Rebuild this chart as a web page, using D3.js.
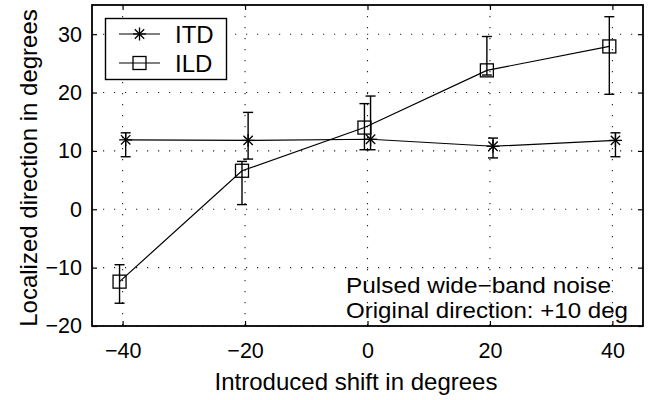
<!DOCTYPE html>
<html><head><meta charset="utf-8">
<script src="https://cdn.jsdelivr.net/npm/d3@7"></script>
<style>
body{margin:0;background:#fff;}
text{font-family:"Liberation Sans",Arial,Helvetica,sans-serif;fill:#000;}
</style></head>
<body><svg id="c" width="653" height="400"></svg>
<script>
const shifts = [-40, -20, 0, 20, 40];
const itdX = [-39.5, -19.5, 0.5, 20.5, 40.5];
const itdMean = [11.9, 11.8, 12.0, 10.8, 11.8];
const itdLow = [9.0, 8.6, 10.2, 8.8, 9.0];
const itdHigh = [13.1, 16.6, 19.4, 12.2, 13.1];
const ildX = [-40.5, -20.5, -0.5, 19.5, 39.5];
const ildMean = [-12.4, 6.6, 14.0, 23.8, 27.9];
const ildLow = [-16.1, 0.8, 10.2, 23.0, 19.7];
const ildHigh = [-9.5, 8.2, 18.1, 29.6, 33.0];
const xTicks = [-40, -20, 0, 20, 40];
const yTicks = [-20, -10, 0, 10, 20, 30];
const legendLabels = ["ITD", "ILD"];
const noteLines = ["Pulsed wide\u2212band noise", "Original direction: +10 deg"];
const xLabel = "Introduced shift in degrees";
const yLabel = "Localized direction in degrees";

const L = 92, R = 643, T = 5, B = 326;
const svg = d3.select("#c");
const x = d3.scaleLinear().domain([-45, 45]).range([L, R]);
const y = d3.scaleLinear().domain([-20, 35]).range([B, T]);
const fmt = d => d < 0 ? "\u2212" + Math.abs(d) : String(d);
const TFS = 21.5, FS = 24;

// grid
const g = svg.append("g");
g.selectAll(".gx").data(xTicks).enter().append("line")
  .attr("x1", d => x(d)).attr("x2", d => x(d)).attr("y1", T).attr("y2", B)
  .attr("stroke", "#222").attr("stroke-width", 1.1).attr("stroke-dasharray", "1.2,9.8");
g.selectAll(".gy").data(yTicks).enter().append("line")
  .attr("y1", d => y(d)).attr("y2", d => y(d)).attr("x1", L).attr("x2", R)
  .attr("stroke", "#222").attr("stroke-width", 1.1).attr("stroke-dasharray", "1.2,9.8");

// axes with inward ticks
const tk = 5;
const axB = d3.axisBottom(x).tickValues(xTicks).tickFormat(fmt).tickSizeInner(-tk).tickSizeOuter(0).tickPadding(0);
const axL = d3.axisLeft(y).tickValues(yTicks).tickFormat(fmt).tickSizeInner(-tk).tickSizeOuter(0).tickPadding(10);
const axT = d3.axisTop(x).tickValues(xTicks).tickFormat("").tickSizeInner(-tk).tickSizeOuter(0);
const axR = d3.axisRight(y).tickValues(yTicks).tickFormat("").tickSizeInner(-tk).tickSizeOuter(0);
function style(sel){
  sel.select(".domain").remove();
  sel.selectAll("line").attr("stroke","#000").attr("stroke-width",1.2);
  sel.selectAll("text").attr("font-size",TFS).attr("fill","#000").style("font-family",'"Liberation Sans",Arial,sans-serif');
}
const gb = svg.append("g").attr("transform",`translate(0,${B})`).call(axB).call(style);
gb.selectAll("text").attr("y",32).attr("dy",null);
svg.append("g").attr("transform",`translate(${L},0)`).call(axL).call(style);
svg.append("g").attr("transform",`translate(0,${T})`).call(axT).call(style);
svg.append("g").attr("transform",`translate(${R},0)`).call(axR).call(style);
svg.append("rect").attr("x",L).attr("y",T).attr("width",R-L).attr("height",B-T)
  .attr("fill","none").attr("stroke","#000").attr("stroke-width",1.8);

// series
function series(xs, m, lo, hi, marker){
  const pts = xs.map((d,i)=>({x:d, m:m[i], lo:lo[i], hi:hi[i]}));
  const line = d3.line().x(d=>x(d.x)).y(d=>y(d.m));
  svg.append("path").datum(pts).attr("d",line).attr("fill","none").attr("stroke","#000").attr("stroke-width",1.2);
  const cw = 5;
  const eb = svg.append("g").attr("stroke","#000").attr("stroke-width",1.4);
  pts.forEach(p=>{
    eb.append("line").attr("x1",x(p.x)).attr("x2",x(p.x)).attr("y1",y(p.lo)).attr("y2",y(p.hi));
    eb.append("line").attr("x1",x(p.x)-cw).attr("x2",x(p.x)+cw).attr("y1",y(p.lo)).attr("y2",y(p.lo));
    eb.append("line").attr("x1",x(p.x)-cw).attr("x2",x(p.x)+cw).attr("y1",y(p.hi)).attr("y2",y(p.hi));
    drawMarker(svg, marker, x(p.x), y(p.m));
  });
}
function drawMarker(parent, type, cx, cy){
  const s = 6.5;
  if(type==="star"){
    const gg = parent.append("g").attr("stroke","#000").attr("stroke-width",1.3);
    gg.append("line").attr("x1",cx-s).attr("x2",cx+s).attr("y1",cy).attr("y2",cy);
    gg.append("line").attr("x1",cx).attr("x2",cx).attr("y1",cy-s).attr("y2",cy+s);
    gg.append("line").attr("x1",cx-s*0.72).attr("x2",cx+s*0.72).attr("y1",cy-s*0.72).attr("y2",cy+s*0.72);
    gg.append("line").attr("x1",cx-s*0.72).attr("x2",cx+s*0.72).attr("y1",cy+s*0.72).attr("y2",cy-s*0.72);
  } else {
    parent.append("rect").attr("x",cx-s).attr("y",cy-s).attr("width",2*s).attr("height",2*s)
      .attr("fill","none").attr("stroke","#000").attr("stroke-width",1.3);
  }
}
series(itdX, itdMean, itdLow, itdHigh, "star");
series(ildX, ildMean, ildLow, ildHigh, "square");

// legend
const lg = svg.append("g");
lg.append("rect").attr("x",105.5).attr("y",18.5).attr("width",121).attr("height",61)
  .attr("fill","#fff").attr("stroke","#000").attr("stroke-width",1.4);
legendLabels.forEach((lab,i)=>{
  const cy = 34 + i*29;
  lg.append("line").attr("x1",119).attr("x2",160).attr("y1",cy).attr("y2",cy).attr("stroke","#000").attr("stroke-width",1.2);
  drawMarker(lg, i===0?"star":"square", 139.5, cy);
  lg.append("text").attr("x",175).attr("y",cy+8.5).attr("font-size",FS).text(lab);
});

// notes: slightly smaller font, stretched to the reference widths so the two lines do not collide
const noteFS = 21.8;
const noteWidths = [265, 282];
noteLines.forEach((t,i)=>{
  svg.append("text").attr("x",346).attr("y",293 + i*24.6).attr("font-size",noteFS)
    .attr("textLength", noteWidths[i]).attr("lengthAdjust","spacingAndGlyphs").text(t);
});

// axis labels
svg.append("text").attr("x",356).attr("y",390).attr("text-anchor","middle").attr("font-size",FS).text(xLabel);
svg.append("text").attr("transform",`translate(37,${168}) rotate(-90)`).attr("text-anchor","middle").attr("font-size",FS).text(yLabel);
</script></body></html>
